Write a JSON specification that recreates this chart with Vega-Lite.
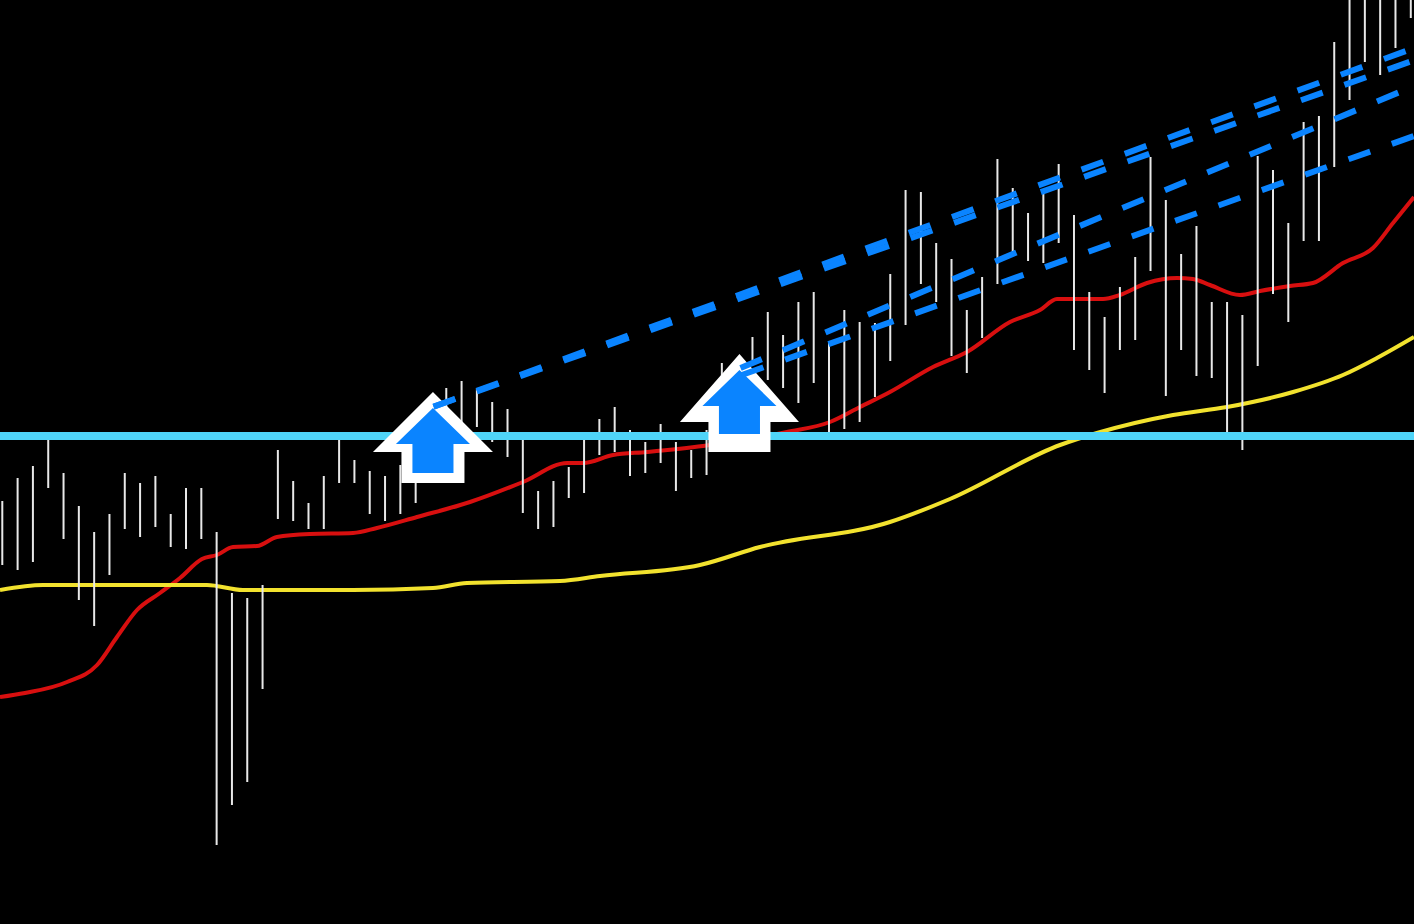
{"$schema":"https://vega.github.io/schema/vega-lite/v6.json","width":1414,"height":924,"padding":0,"autosize":{"type":"none"},"background":"#000000","config":{"view":{"stroke":null}},
"datasets":{
"bars":[{"i":0,"l":359,"h":423},{"i":1,"l":354,"h":446},{"i":2,"l":362,"h":458},{"i":3,"l":436,"h":484},{"i":4,"l":385,"h":451},{"i":5,"l":324,"h":418},{"i":6,"l":298,"h":392},{"i":7,"l":349,"h":410},{"i":8,"l":395,"h":451},{"i":9,"l":387,"h":441},{"i":10,"l":397,"h":448},{"i":11,"l":377,"h":410},{"i":12,"l":375,"h":436},{"i":13,"l":385,"h":436},{"i":14,"l":79,"h":392},{"i":15,"l":119,"h":331},{"i":16,"l":142,"h":326},{"i":17,"l":235,"h":339},{"i":18,"l":405,"h":474},{"i":19,"l":403,"h":443},{"i":20,"l":395,"h":421},{"i":21,"l":395,"h":448},{"i":22,"l":441,"h":484},{"i":23,"l":441,"h":464},{"i":24,"l":410,"h":453},{"i":25,"l":403,"h":448},{"i":26,"l":410,"h":459},{"i":27,"l":421,"h":454},{"i":28,"l":464,"h":504},{"i":29,"l":499,"h":536},{"i":30,"l":499,"h":543},{"i":31,"l":497,"h":536},{"i":32,"l":482,"h":522},{"i":33,"l":467,"h":515},{"i":34,"l":411,"h":488},{"i":35,"l":395,"h":433},{"i":36,"l":397,"h":443},{"i":37,"l":426,"h":457},{"i":38,"l":431,"h":487},{"i":39,"l":469,"h":505},{"i":40,"l":472,"h":517},{"i":41,"l":448,"h":494},{"i":42,"l":451,"h":482},{"i":43,"l":461,"h":500},{"i":44,"l":433,"h":482},{"i":45,"l":446,"h":474},{"i":46,"l":449,"h":494},{"i":47,"l":514,"h":561},{"i":48,"l":504,"h":554},{"i":49,"l":564,"h":587},{"i":50,"l":544,"h":612},{"i":51,"l":536,"h":589},{"i":52,"l":521,"h":622},{"i":53,"l":541,"h":632},{"i":54,"l":492,"h":581},{"i":55,"l":495,"h":614},{"i":56,"l":502,"h":602},{"i":57,"l":527,"h":601},{"i":58,"l":563,"h":650},{"i":59,"l":599,"h":734},{"i":60,"l":640,"h":732},{"i":61,"l":622,"h":681},{"i":62,"l":568,"h":665},{"i":63,"l":551,"h":614},{"i":64,"l":586,"h":647},{"i":65,"l":640,"h":765},{"i":66,"l":672,"h":736},{"i":67,"l":663,"h":711},{"i":68,"l":661,"h":734},{"i":69,"l":681,"h":760},{"i":70,"l":574,"h":709},{"i":71,"l":554,"h":632},{"i":72,"l":531,"h":607},{"i":73,"l":574,"h":637},{"i":74,"l":584,"h":667},{"i":75,"l":653,"h":767},{"i":76,"l":528,"h":724},{"i":77,"l":574,"h":670},{"i":78,"l":548,"h":698},{"i":79,"l":546,"h":622},{"i":80,"l":492,"h":622},{"i":81,"l":474,"h":609},{"i":82,"l":558,"h":768},{"i":83,"l":630,"h":754},{"i":84,"l":602,"h":701},{"i":85,"l":683,"h":802},{"i":86,"l":683,"h":808},{"i":87,"l":757,"h":882},{"i":88,"l":824,"h":960},{"i":89,"l":862,"h":960},{"i":90,"l":849,"h":960},{"i":91,"l":876,"h":960},{"i":92,"l":906,"h":960}],
"red":[{"i":-0.15,"v":227},{"i":1.48,"v":231},{"i":4.23,"v":242},{"i":6.19,"v":259},{"i":7.49,"v":287},{"i":8.8,"v":314},{"i":10.3,"v":331},{"i":11.61,"v":346},{"i":13.04,"v":365},{"i":14.02,"v":369},{"i":15.07,"v":377},{"i":16.64,"v":378},{"i":17.94,"v":387},{"i":20.1,"v":390},{"i":22.91,"v":391},{"i":24.47,"v":396},{"i":27.09,"v":407},{"i":30.55,"v":422},{"i":34.01,"v":442},{"i":36.9,"v":461},{"i":37.93,"v":461},{"i":39.89,"v":469},{"i":42.11,"v":472},{"i":45.77,"v":478},{"i":51.25,"v":492},{"i":54.06,"v":502},{"i":56.02,"v":517},{"i":57.98,"v":532},{"i":60.79,"v":557},{"i":63.01,"v":572},{"i":65.82,"v":602},{"i":67.78,"v":614},{"i":68.89,"v":625},{"i":71.05,"v":625},{"i":71.9,"v":625},{"i":73.0,"v":629},{"i":74.77,"v":641},{"i":76.73,"v":646},{"i":77.77,"v":645},{"i":78.88,"v":639},{"i":80.84,"v":629},{"i":82.15,"v":633},{"i":84.11,"v":638},{"i":85.61,"v":641},{"i":87.57,"v":661},{"i":89.53,"v":676},{"i":90.84,"v":701},{"i":92.21,"v":727}],
"yellow":[{"i":-0.15,"v":334},{"i":2.66,"v":339},{"i":5.27,"v":339},{"i":7.69,"v":339},{"i":13.37,"v":339},{"i":15.72,"v":334},{"i":22.91,"v":334},{"i":28.13,"v":336},{"i":30.35,"v":341},{"i":36.43,"v":343},{"i":39.04,"v":348},{"i":45.57,"v":359},{"i":49.49,"v":377},{"i":57.98,"v":402},{"i":61.9,"v":425},{"i":69.09,"v":479},{"i":71.5,"v":491},{"i":76.47,"v":509},{"i":80.0,"v":517},{"i":84.31,"v":532},{"i":87.57,"v":549},{"i":89.79,"v":566},{"i":92.21,"v":587}],
"level":[{"i":-0.15,"v":488},{"i":92.21,"v":488}],
"rays":[{"s":"A","i":28.17,"v":517.3},{"s":"A","i":92.21,"v":876},{"s":"B","i":28.17,"v":517.3},{"s":"B","i":92.21,"v":863.7},{"s":"C","i":48.22,"v":556},{"s":"C","i":92.21,"v":838},{"s":"D","i":48.3,"v":549},{"s":"D","i":92.21,"v":788}],
"arrow1":[{"i":28.13,"v":486.5}],
"arrow2":[{"i":48.15,"v":521}]
},
"encoding":{
"x":{"field":"i","type":"quantitative","axis":null,"scale":{"domain":[-0.15,92.21],"nice":false,"zero":false}},
"y":{"field":"v","type":"quantitative","axis":null,"scale":{"domain":[0,924],"nice":false,"zero":false}}
},
"layer":[
{"data":{"name":"red"},"mark":{"type":"line","color":"#d80f0f","strokeWidth":4,"interpolate":"monotone","clip":true}},
{"data":{"name":"yellow"},"mark":{"type":"line","color":"#f2e22e","strokeWidth":4,"interpolate":"monotone","clip":true}},
{"data":{"name":"bars"},"mark":{"type":"rule","color":"#e8e8e8","strokeWidth":2,"clip":true},"encoding":{"y":{"field":"l","type":"quantitative","axis":null,"scale":{"domain":[0,924],"nice":false,"zero":false}},"y2":{"field":"h"}}},
{"data":{"name":"level"},"mark":{"type":"line","color":"#4fd4f8","strokeWidth":8,"clip":true}},
{"data":{"name":"arrow1"},"mark":{"type":"point","filled":true,"opacity":1,"color":"#ffffff","size":14400,"shape":"M0,-0.758 L1,0.242 L0.525,0.242 L0.525,0.758 L-0.525,0.758 L-0.525,0.242 L-1,0.242 Z"}},
{"data":{"name":"arrow1"},"mark":{"type":"point","filled":true,"opacity":1,"color":"#0a84ff","size":14400,"shape":"M0,-0.492 L0.617,0.108 L0.342,0.108 L0.342,0.592 L-0.342,0.592 L-0.342,0.108 L-0.617,0.108 Z"}},
{"data":{"name":"arrow2"},"mark":{"type":"point","filled":true,"opacity":1,"color":"#ffffff","size":14400,"shape":"M0,-0.817 L0.992,0.317 L0.517,0.317 L0.517,0.817 L-0.517,0.817 L-0.517,0.317 L-0.992,0.317 Z"}},
{"data":{"name":"arrow2"},"mark":{"type":"point","filled":true,"opacity":1,"color":"#0a84ff","size":14400,"shape":"M0,-0.55 L0.617,0.05 L0.342,0.05 L0.342,0.517 L-0.342,0.517 L-0.342,0.05 L-0.617,0.05 Z"}},
{"data":{"name":"rays"},"mark":{"type":"line","color":"#0a84ff","strokeWidth":6,"strokeDash":[23,23],"clip":true},"encoding":{"detail":{"field":"s"}}}
]}
